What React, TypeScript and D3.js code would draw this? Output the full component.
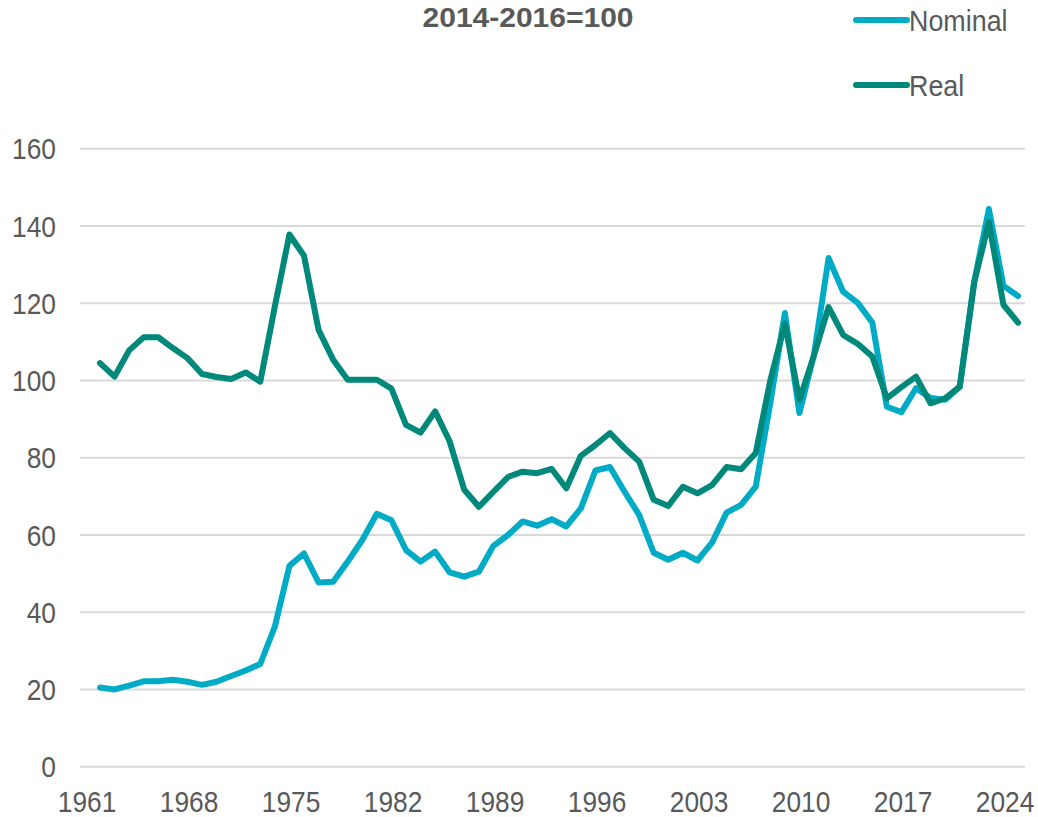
import React from "react";
import * as d3 from "d3";

const years: number[] = d3.range(1961, 2025);

const nominal: number[] = [
  20.5, 20.0, 21.0, 22.1, 22.1, 22.5, 22.0, 21.2, 22.0, 23.5,
  24.9, 26.6, 36.3, 52.0, 55.2, 47.7, 47.9, 53.1, 58.7, 65.5,
  63.8, 56.1, 53.1, 55.7, 50.3, 49.2, 50.5, 57.2, 60.0, 63.5,
  62.4, 64.1, 62.2, 66.9, 76.7, 77.6, 71.2, 65.2, 55.4, 53.6,
  55.4, 53.4, 58.0, 65.8, 67.8, 72.5, 94.2, 117.5, 91.6, 106.7,
  131.7, 123.0, 120.1, 115.0, 93.2, 91.8, 98.0, 95.5, 95.0, 98.3,
  125.7, 144.4, 124.5, 121.9,
];

const real: number[] = [
  104.5, 101.0, 107.8, 111.2, 111.2, 108.4, 105.8, 101.7, 100.9, 100.4,
  102.1, 99.7, 119.2, 137.8, 132.3, 113.1, 105.4, 100.2, 100.2, 100.2,
  97.9, 88.5, 86.5, 92.0, 84.2, 71.7, 67.3, 71.2, 75.0, 76.4,
  76.0, 77.1, 72.1, 80.5, 83.3, 86.4, 82.5, 79.0, 69.1, 67.5,
  72.5, 70.8, 72.9, 77.6, 77.0, 81.2, 100.0, 114.7, 95.0, 106.5,
  119.0, 111.8, 109.5, 106.2, 95.4, 98.3, 101.0, 94.1, 95.4, 98.4,
  125.5, 141.0, 119.6, 115.0,
];

const yTicks: number[] = [0, 20, 40, 60, 80, 100, 120, 140, 160];
const xTickYears: number[] = [1961, 1968, 1975, 1982, 1989, 1996, 2003, 2010, 2017, 2024];

const seriesNames: string[] = ["Nominal", "Real"];
const seriesColors: string[] = ["#00ABC6", "#00897B"];
const title = "2014-2016=100";

const W = 1038;
const H = 817;
const FONT = "'Liberation Sans', Arial, Helvetica, sans-serif";
const TEXT = "#595959";

export default function App() {
  const x = d3.scaleLinear().domain([1961, 2024]).range([100, 1018]);
  const y = d3.scaleLinear().domain([0, 160]).range([766.7, 148.8]);
  const gridX0 = 80;
  const gridX1 = 1025;

  const line = d3
    .line<number>()
    .x((_, i) => x(years[i]))
    .y((d) => y(d));

  const series = [nominal, real];

  return (
    <svg
      width={W}
      height={H}
      style={{ position: "absolute", left: 0, top: 0, background: "#fff" }}
      fontFamily={FONT}
    >
      <rect x={0} y={0} width={W} height={H} fill="#fff" />
      <text
        transform={`translate(528,27) scale(1,0.95)`}
        textAnchor="middle"
        fontSize={30}
        fontWeight="bold"
        fill={TEXT}
      >
        {title}
      </text>

      {yTicks.map((t) => (
        <g key={t}>
          <line x1={gridX0} x2={gridX1} y1={y(t)} y2={y(t)} stroke="#d9d9d9" strokeWidth={2} />
          <text
            transform={`translate(56,${y(t)}) scale(0.94,1.05)`}
            dy="0.36em"
            textAnchor="end"
            fontSize={28}
            fill={TEXT}
          >
            {t}
          </text>
        </g>
      ))}

      {xTickYears.map((yr) => (
        <text
          key={yr}
          transform={`translate(${x(yr) - 13},812) scale(0.94,1.05)`}
          textAnchor="middle"
          fontSize={28}
          fill={TEXT}
        >
          {yr}
        </text>
      ))}

      {series.map((s, i) => (
        <path
          key={seriesNames[i]}
          d={line(s) || ""}
          fill="none"
          stroke={seriesColors[i]}
          strokeWidth={6}
          strokeLinejoin="round"
          strokeLinecap="round"
        />
      ))}

      {seriesNames.map((n, i) => (
        <g key={n}>
          <line
            x1={856}
            x2={907}
            y1={20 + i * 65}
            y2={20 + i * 65}
            stroke={seriesColors[i]}
            strokeWidth={6}
            strokeLinecap="round"
          />
          <text
            transform={`translate(909,${20 + i * 65}) scale(0.96,1.05)`}
            dy="0.36em"
            fontSize={28}
            fill={TEXT}
          >
            {n}
          </text>
        </g>
      ))}
    </svg>
  );
}
